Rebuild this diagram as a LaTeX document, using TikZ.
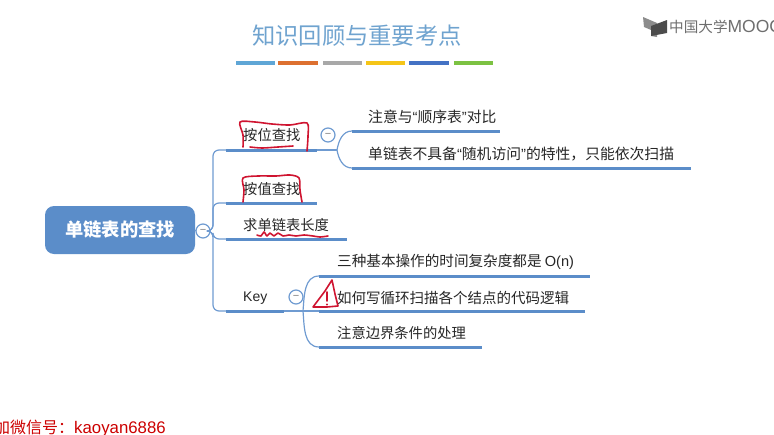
\documentclass[tikz,border=0pt]{standalone}
\usepackage{fontspec}
\usepackage{xcolor}
\usepackage{tikz}
\setmainfont{Noto Sans CJK SC}
\newfontfamily\latfont{Liberation Sans}
\definecolor{mapblue}{HTML}{5B8DC9}
\definecolor{linkblue}{HTML}{6F9BD1}
\definecolor{titleblue}{HTML}{6FA3CF}
\definecolor{penred}{HTML}{CF1430}
\definecolor{logogray}{HTML}{6E6E6E}
\definecolor{bandblue}{HTML}{5FA6D6}
\definecolor{bandorange}{HTML}{DD7030}
\definecolor{bandgray}{HTML}{A8A8A8}
\definecolor{bandyellow}{HTML}{F5C518}
\definecolor{banddeep}{HTML}{4472C4}
\definecolor{bandgreen}{HTML}{7CC242}
\tikzset{
  topic/.style={anchor=west,inner sep=0pt,font=\fontsize{14.3}{14}\selectfont,text=black!85},
  bar/.style={line width=3pt,mapblue},
  link/.style={line width=1.2pt,linkblue},
  fold/.style={circle,draw=linkblue,line width=1.2pt,fill=white,minimum size=14pt,inner sep=0pt,text=black!50,font=\latfont\fontsize{11}{11}\selectfont},
  band/.style={line width=3.5pt},
  pen/.style={penred,line width=1.6pt,line cap=round,line join=round}
}
\begin{document}
\begin{tikzpicture}[x=1pt,y=-1pt]
\useasboundingbox (0,0) rectangle (774,434);

\node [inner sep=0pt,text=titleblue,font=\fontsize{23.3}{24}\selectfont] (title) at (357,36) {知识回顾与重要考点};
\draw [band,bandblue] (236,63)--(275,63);
\draw [band,bandorange] (278,63)--(318,63);
\draw [band,bandgray] (323,63)--(362,63);
\draw [band,bandyellow] (366,63)--(405,63);
\draw [band,banddeep] (409,63)--(449,63);
\draw [band,bandgreen] (454,63)--(493,63);

\fill [black!45] (643,17)--(657,23)--(657,37)--(651,36)--(651,30)--(644,27)--cycle;
\fill [black!70] (651,26)--(667,20)--(667,33)--(651,36)--cycle;
\node [anchor=west,inner sep=0pt,text=logogray,font=\fontsize{14.6}{15}\selectfont] (logo) at (669,27) {中国大学{\latfont\fontsize{17.5}{15}\selectfont MOOC}};

\node [fill=mapblue,rounded corners=9pt,minimum width=150pt,minimum height=48pt,inner sep=0pt,text=white,font=\bfseries\fontsize{18.3}{19}\selectfont] (root) at (120,230) {单链表的查找};
\node [fold] (rootfold) at (203,231) {−};
\draw [link] (root.east)--(rootfold.west);

\node [topic] (bypos) at (243,135) {按位查找};
\node [topic] (byval) at (243,189) {按值查找};
\node [topic] (length) at (243,225) {求单链表长度};
\node [topic,font=\latfont\fontsize{14}{14}\selectfont] (key) at (243,298) {Key};

\coordinate (bypos0) at (226,150);
\coordinate (bypos1) at (317,150);
\coordinate (byval0) at (226,203);
\coordinate (byval1) at (317,203);
\coordinate (length0) at (226,239);
\coordinate (length1) at (347,239);
\coordinate (key0) at (226,311);
\coordinate (key1) at (284,311);

\draw [link,rounded corners=6pt] (rootfold.east)--(213,231)|-(bypos0);
\draw [link,rounded corners=6pt] (rootfold.east)--(213,231)|-(byval0);
\draw [link,rounded corners=6pt] (rootfold.east)--(213,231)|-(length0);
\draw [link,rounded corners=6pt] (rootfold.east)--(213,231)|-(key0);

\draw [bar] (bypos0)--(bypos1);
\draw [bar] (byval0)--(byval1);
\draw [bar] (length0)--(length1);
\draw [bar] (key0)--(key1);

\node [fold] (posfold) at (328,135) {−};
\node [fold] (keyfold) at (296,297) {−};

\node [topic,font=\fontsize{14.8}{14}\selectfont] (compare) at (368,117) {注意与{\latfont “}顺序表{\latfont ”}对比};
\node [topic,font=\fontsize{14.8}{14}\selectfont] (noaccess) at (368,154) {单链表不具备{\latfont “}随机访问{\latfont ”}的特性，只能依次扫描};
\node [topic,font=\fontsize{14.6}{14}\selectfont] (cost) at (337,262) {三种基本操作的时间复杂度都是 {\latfont O(n)}};
\node [topic,font=\fontsize{14.5}{14}\selectfont] (loop) at (337,298) {如何写循环扫描各个结点的代码逻辑};
\node [topic] (edge) at (337,333) {注意边界条件的处理};

\coordinate (posfork) at (337,150);
\coordinate (compare0) at (352,131);
\coordinate (compare1) at (500,131);
\coordinate (noaccess0) at (352,168);
\coordinate (noaccess1) at (691,168);
\coordinate (keyfork) at (303,311);
\coordinate (cost0) at (319,276);
\coordinate (cost1) at (590,276);
\coordinate (loop0) at (319,311);
\coordinate (loop1) at (585,311);
\coordinate (edge0) at (319,347);
\coordinate (edge1) at (482,347);

\draw [link] (bypos1)--(posfork);
\draw [link] (posfork) to[out=80,in=180] (compare0);
\draw [link] (posfork) to[out=-80,in=180] (noaccess0);
\draw [link] (key1)--(loop0);
\draw [link] (keyfork) to[out=85,in=180] (cost0);
\draw [link] (keyfork) to[out=-85,in=180] (edge0);

\draw [bar] (compare0)--(compare1);
\draw [bar] (noaccess0)--(noaccess1);
\draw [bar] (cost0)--(cost1);
\draw [bar] (loop0)--(loop1);
\draw [bar] (edge0)--(edge1);

\draw [pen] plot[smooth] coordinates {(243,147) (243,135) (240,122) (255,122) (272,124) (290,125) (307,123) (308,136) (307,151)};
\draw [pen] plot[smooth] coordinates {(250,147) (262,148) (278,147) (293,146)};
\draw [pen] plot[smooth] coordinates {(243,202) (244,190) (243,178) (258,176) (276,176) (290,175) (299,178) (300,190) (302,202)};
\draw [pen] plot[smooth] coordinates {(257,235) (261,236) (264,232) (267,236) (270,233) (274,236) (278,233) (283,236) (289,235) (296,236) (304,235) (313,236) (320,237) (328,236)};
\draw [pen] (332,280)--(325,291)--(313,307)--(327,307)--(338,306)--(335,294)--cycle;
\draw [pen] (327,292)--(327,301);
\fill [penred] (327,304.5) circle (1.2pt);

\node [anchor=west,inner sep=0pt,text=red!80!black,font=\fontsize{16}{16}\selectfont] (wechat) at (-6,429) {加微信号：{\latfont\fontsize{16.8}{16}\selectfont kaoyan6886}};
\end{tikzpicture}
\end{document}
